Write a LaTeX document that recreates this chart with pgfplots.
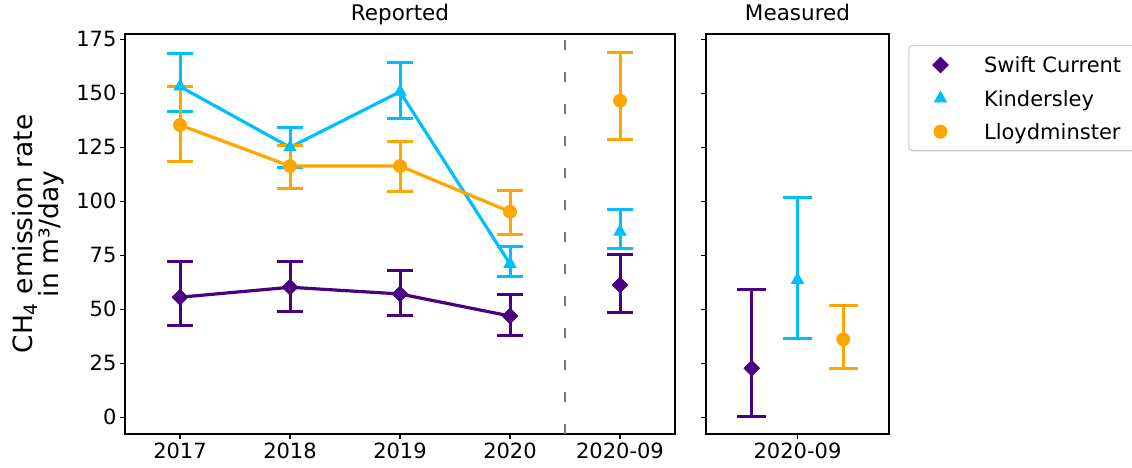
\documentclass[border=0pt]{standalone}
\usepackage{pgfplots}
\pgfplotsset{compat=1.18}
\usepackage{pgfplotstable}
\usepackage{fontspec}
\setmainfont{DejaVu Sans}

\definecolor{swift}{HTML}{4B0082}
\definecolor{kinders}{HTML}{00BFFF}
\definecolor{lloyd}{HTML}{FFA500}
\definecolor{sepline}{HTML}{777777}

% reported annual rates: x y (error plus) (error minus)
\pgfplotstableread{
x y ep em
0 55.6 16.3 13.3
1 60.2 12.0 11.4
2 57.1 10.8 9.9
3 46.9 10.0 8.8
}\swiftrep
\pgfplotstableread{
x y ep em
0 153.1 15.4 11.6
1 125.0 9.1 9.4
2 150.7 13.7 12.3
3 71.0 8.0 5.7
}\kindrep
\pgfplotstableread{
x y ep em
0 135.3 17.8 17.0
1 116.3 9.3 10.6
2 116.3 11.3 11.9
3 95.2 10.0 10.8
}\lloydrep
% reported, September 2020
\pgfplotstableread{
x y ep em
4 61.3 14.2 12.7
}\swiftsep
\pgfplotstableread{
x y ep em
4 85.9 10.4 7.7
}\kindsep
\pgfplotstableread{
x y ep em
4 146.6 22.2 17.9
}\lloydsep
% measured, September 2020
\pgfplotstableread{
x y ep em
-0.25 22.7 36.6 22.1
}\swiftmeas
\pgfplotstableread{
x y ep em
0 63.6 38.3 26.9
}\kindmeas
\pgfplotstableread{
x y ep em
0.25 36.1 15.8 13.7
}\lloydmeas

\pgfplotsset{
  panel/.style={
    scale only axis,
    anchor=south west,
    height=400pt,
    ymin=-7.73, ymax=177.45,
    ytick={0,25,...,175},
    xtick pos=bottom, ytick pos=left,
    tick align=outside,
    major tick length=5pt,
    tick style={black, line width=1.1pt},
    axis line style={black, line width=1.1pt},
    /pgf/number format/assume math mode=true,
    ticklabel style={font=\fontsize{21}{25}\selectfont},
    title style={at={(0.5,1)}, anchor=base, yshift=7.3pt, inner sep=0pt,
      font=\fontsize{21.5}{25}\selectfont},
  },
  ser/.style 2 args={color=#1, line width=3.2pt,
    error bars/y dir=both, error bars/y explicit,
    error bars/error bar style={line width=3pt, solid},
    error bars/error mark options={rotate=90, mark size=#2, line width=3pt, solid},
  },
  swiftmk/.style={mark=square*, mark size=5.6pt, mark options={rotate=45, line width=0.6pt, solid}},
  kindmk/.style={mark=triangle*, mark size=7.2pt, mark options={line width=0.6pt, solid}},
  lloydmk/.style={mark=*, mark size=6.6pt, mark options={line width=0.6pt, solid}},
}

\begin{document}
\begin{tikzpicture}
\useasboundingbox (0,0) rectangle (1132pt,467pt);
\clip (0,0) rectangle (1132pt,467pt);

\begin{axis}[panel,
  at={(125pt,33pt)}, width=550pt,
  xmin=-0.5, xmax=4.5,
  xtick={0,1,2,3,4},
  xticklabels={2017,2018,2019,2020,2020-09},
  title={Reported},
  ylabel={CH\textsubscript{4} emission rate\\in m³/day},
  ylabel style={at={(axis description cs:-0.2045,0.5)}, anchor=north,
    inner sep=0pt, align=center, font=\fontsize{26.5}{24.5}\selectfont},
]
\addplot[sepline, line width=2pt, dash pattern=on 10pt off 22pt, forget plot]
  coordinates {(3.5,-7.73) (3.5,177.45)};

\addplot[ser={swift}{12.6pt}, swiftmk]
  table[x=x, y=y, y error plus=ep, y error minus=em] {\swiftrep};
\addplot[ser={kinders}{12.6pt}, kindmk]
  table[x=x, y=y, y error plus=ep, y error minus=em] {\kindrep};
\addplot[ser={lloyd}{12.6pt}, lloydmk]
  table[x=x, y=y, y error plus=ep, y error minus=em] {\lloydrep};

\addplot[ser={swift}{12.6pt}, only marks, swiftmk]
  table[x=x, y=y, y error plus=ep, y error minus=em] {\swiftsep};
\addplot[ser={kinders}{12.6pt}, only marks, kindmk]
  table[x=x, y=y, y error plus=ep, y error minus=em] {\kindsep};
\addplot[ser={lloyd}{12.6pt}, only marks, lloydmk]
  table[x=x, y=y, y error plus=ep, y error minus=em] {\lloydsep};
\end{axis}

\begin{axis}[panel,
  at={(706pt,33pt)}, width=183pt,
  xmin=-0.5, xmax=0.5,
  xtick={0}, xticklabels={2020-09},
  yticklabels={},
  title={Measured},
  legend cell align=left,
  legend image code/.code={
    \path (0pt,0pt) (69pt,0pt);
    \draw[#1] plot[only marks] coordinates {(27pt,0pt)};
  },
  legend style={
    at={(axis description cs:1.1055,0.9725)}, anchor=north west,
    draw=black!20, line width=1.1pt, rounded corners=4pt, fill=white,
    inner xsep=3pt, inner ysep=11.5pt, row sep=17.9pt, column sep=0pt,
    font=\fontsize{21}{25}\selectfont,
    nodes={inner sep=0pt, text height=15.3pt, text depth=0pt, anchor=west},
  },
]
\addplot[ser={swift}{14.7pt}, only marks, swiftmk]
  table[x=x, y=y, y error plus=ep, y error minus=em] {\swiftmeas};
\addlegendentry{Swift Current\rule{40pt}{0pt}}
\addplot[ser={kinders}{14.7pt}, only marks, kindmk]
  table[x=x, y=y, y error plus=ep, y error minus=em] {\kindmeas};
\addlegendentry{Kindersley}
\addplot[ser={lloyd}{14.7pt}, only marks, lloydmk]
  table[x=x, y=y, y error plus=ep, y error minus=em] {\lloydmeas};
\addlegendentry{Lloydminster}
\end{axis}
\end{tikzpicture}
\end{document}
